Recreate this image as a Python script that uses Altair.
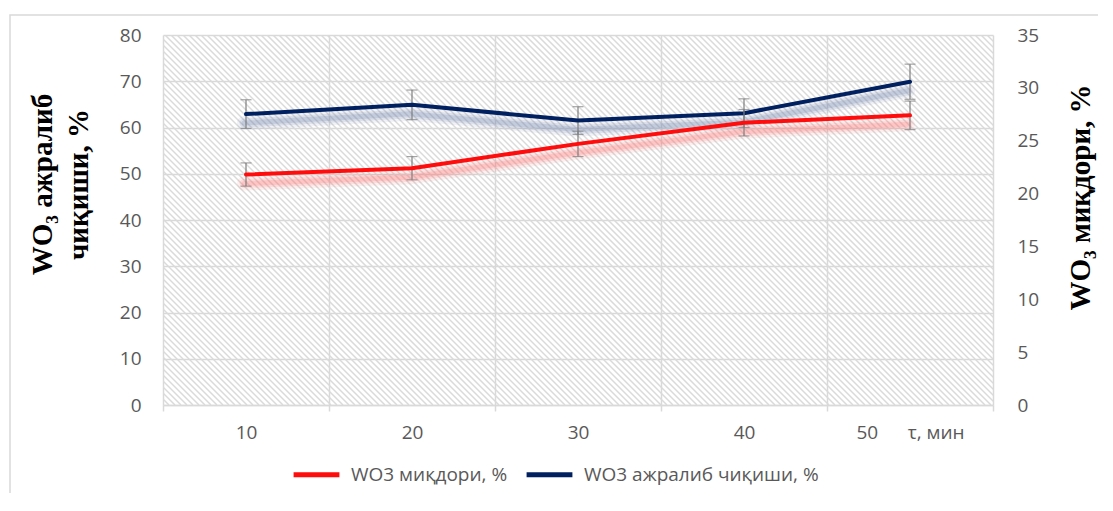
import altair as alt
import pandas as pd

# ---- data ----
categories = ["10", "20", "30", "40", "50"]
content = [21.8, 22.4, 24.7, 26.7, 27.4]          # WO3 миқдори, % (right axis)
content_err = [1.1, 1.1, 1.2, 1.25, 1.35]
yield_vals = [62.9, 64.9, 61.5, 63.1, 69.9]       # WO3 ажралиб чиқиши, % (left axis)
yield_err = [3.1, 3.2, 3.0, 3.1, 3.8]
left_ticks = [0, 10, 20, 30, 40, 50, 60, 70, 80]
right_ticks = [0, 5, 10, 15, 20, 25, 30, 35]
series_names = ["WO3 миқдори, %", "WO3 ажралиб чиқиши, %"]
series_colors = ["#ff0d0d", "#002060"]
last_label = "50\u00a0\u00a0\u00a0\u00a0\u00a0\u00a0τ, мин"

W, H = 830, 370
FONT = "Open Sans"
GRID = "#d9d9d9"
TXT = "#595959"
FS = 19

def frame(vals, errs, name):
    return pd.DataFrame({
        "t": categories,
        "v": vals,
        "lo": [v - e for v, e in zip(vals, errs)],
        "hi": [v + e for v, e in zip(vals, errs)],
        "s": [name] * len(categories),
    })

df_red = frame(content, content_err, series_names[0])
df_blue = frame(yield_vals, yield_err, series_names[1])

# decorative hatch of the plot background
offsets = list(range(-H, W, 6))
df_hatch = pd.DataFrame({"x": offsets, "y": [0] * len(offsets),
                         "x2": [o + H for o in offsets], "y2": [H] * len(offsets)})

x_enc = alt.X(
    "t:N",
    bandPosition=0.5,
    scale=alt.Scale(type="band", domain=categories, paddingInner=0, paddingOuter=0),
    axis=alt.Axis(
        title=None, labelAngle=0, tickBand="extent", grid=True, gridColor=GRID,
        gridWidth=1.5, tickColor=GRID, tickWidth=1.5, tickSize=6, domainColor=GRID,
        domainWidth=1.5, labelPadding=12, labelFont=FONT, labelFontSize=FS,
        labelColor=TXT, labelLimit=300,
        labelExpr=f"datum.value == '50' ? '{last_label}' : datum.value",
    ),
)

color_enc = alt.Color(
    "s:N",
    scale=alt.Scale(domain=series_names, range=series_colors),
    legend=alt.Legend(
        title=None, orient="none", legendX=128, legendY=414, direction="horizontal",
        symbolType="stroke", symbolStrokeWidth=5, symbolSize=2100,
        labelFont=FONT, labelFontSize=FS, labelColor=TXT, labelOffset=9,
        columnPadding=8, labelLimit=400,
    ),
)

left_axis = alt.Axis(
    orient="left", values=left_ticks, grid=True, gridColor=GRID, gridWidth=1.5,
    ticks=False, domain=False, labelPadding=22, labelFont=FONT, labelFontSize=FS,
    labelColor=TXT,
    title=["WO₃ ажралиб", "чиқиши, %"], titleFont="Liberation Serif",
    titleFontSize=29, titleFontWeight="bold", titleColor="#000000",
    titleAngle=270, titleX=-121, titleY=149, titleBaseline="middle",
    titleAlign="center", titleLineHeight=36,
)
right_axis = alt.Axis(
    orient="right", values=right_ticks, grid=False, ticks=False, domain=False,
    labelPadding=24, labelFont=FONT, labelFontSize=FS, labelColor=TXT,
    title="WO₃ миқдори, %", titleFont="Liberation Serif", titleFontSize=29,
    titleFontWeight="bold", titleColor="#000000", titleAngle=270,
    titleX=87, titleY=162, titleBaseline="middle", titleAlign="center",
)

def series_layer(df, domain, axis, line_color, shadow_color):
    yscale = alt.Scale(domain=domain, nice=False, zero=True)
    base = alt.Chart(df)
    shadows = [
        base.mark_line(color=shadow_color, strokeWidth=w, opacity=o, yOffset=9,
                       xOffset=-2, strokeCap="round", strokeJoin="round")
        .encode(x=x_enc, y=alt.Y("v:Q", scale=yscale, axis=axis))
        for w, o in [(14, 0.10), (9, 0.16), (5, 0.22)]
    ]
    err = base.mark_rule(color="#7f7f7f", strokeWidth=1.2).encode(
        x=x_enc, y=alt.Y("lo:Q", scale=yscale, axis=axis), y2="hi:Q")
    cap_lo = base.mark_tick(color="#7f7f7f", thickness=1.2, size=11).encode(
        x=x_enc, y=alt.Y("lo:Q", scale=yscale, axis=axis))
    cap_hi = base.mark_tick(color="#7f7f7f", thickness=1.2, size=11).encode(
        x=x_enc, y=alt.Y("hi:Q", scale=yscale, axis=axis))
    line = base.mark_line(strokeWidth=4, strokeCap="round", strokeJoin="round").encode(
        x=x_enc, y=alt.Y("v:Q", scale=yscale, axis=axis), color=color_enc)
    return alt.layer(*shadows, err, cap_lo, cap_hi, line)

blue = series_layer(df_blue, [0, 80], left_axis, series_colors[1], "#6d83ad")
red = series_layer(df_red, [0, 35], right_axis, series_colors[0], "#ff7070")

hatch = alt.Chart(df_hatch).mark_rule(color="#dadada", strokeWidth=1.5, clip=True).encode(
    x=alt.X("x:Q", scale=None, axis=None),
    y=alt.Y("y:Q", scale=None, axis=None),
    x2="x2:Q", y2="y2:Q",
)

outer = alt.Chart(pd.DataFrame({"k": [0]})).mark_rect(
    fillOpacity=0, stroke=GRID, strokeWidth=1.5
).encode(x=alt.value(-153), y=alt.value(-20), x2=alt.value(1200), y2=alt.value(800))

chart = (
    alt.layer(outer, hatch, blue, red)
    .resolve_scale(y="independent")
    .properties(
        width=W, height=H,
        autosize=alt.AutoSizeParams(type="none"),
        padding={"left": 155, "top": 27, "right": 105, "bottom": 88},
        background="#ffffff",
    )
    .configure_view(stroke=None)
)

chart.save("out.html", embed_options={"renderer": "svg", "actions": False})
